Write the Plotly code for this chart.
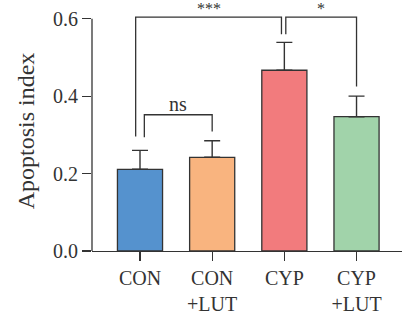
import plotly.graph_objects as go

categories = ["CON", "CON<br>+LUT", "CYP", "CYP<br>+LUT"]
means = [0.211, 0.242, 0.467, 0.347]
errors = [0.049, 0.043, 0.072, 0.053]
colors = ["#5592CE", "#F9B47F", "#F27B7D", "#A1D3AA"]
y_ticks = [0.0, 0.2, 0.4, 0.6]

# significance brackets: x_left, x_right, y_top, y_left_bottom, y_right_bottom, label
br_x_left = [-0.06, 2.02, 0.06]
br_x_right = [1.96, 3.0, 1.0]
br_top = [0.604, 0.604, 0.352]
br_left_bottom = [0.296, 0.56, 0.294]
br_right_bottom = [0.56, 0.425, 0.309]
br_labels = ["***", "*", "ns"]

ink = "#333333"
font_family = "Liberation Serif, Times New Roman, serif"
xpos = list(range(len(categories)))

fig = go.Figure()
fig.add_trace(go.Bar(
    x=xpos, y=means, width=0.625,
    marker=dict(color=colors, line=dict(color=ink, width=1.3)),
    error_y=dict(type="data", array=errors, arrayminus=[0] * len(errors),
                 symmetric=False, color=ink, thickness=1.4, width=8),
    hoverinfo="skip",
))

for xl, xr, yt, ylb, yrb, lab in zip(br_x_left, br_x_right, br_top, br_left_bottom, br_right_bottom, br_labels):
    fig.add_shape(type="path", xref="x", yref="y",
                  path=f"M {xl},{ylb} L {xl},{yt} L {xr},{yt} L {xr},{yrb}",
                  line=dict(color=ink, width=1.3))
    if lab == "ns":
        fig.add_annotation(x=(xl + xr) / 2, y=yt, text=lab, showarrow=False,
                           xref="x", yref="y", yanchor="bottom", yshift=-2,
                           font=dict(family=font_family, size=20, color=ink))
    else:
        fig.add_annotation(x=(xl + xr) / 2, y=yt, text=lab, showarrow=False,
                           xref="x", yref="y", yanchor="bottom", yshift=-2,
                           font=dict(family=font_family, size=16, color=ink))

# y axis line up to the top tick
fig.add_shape(type="line", xref="paper", yref="y", x0=0, x1=0, y0=0, y1=y_ticks[-1],
              line=dict(color=ink, width=1.3))

fig.update_layout(
    width=402, height=322,
    margin=dict(l=92, r=0, t=11, b=71),
    paper_bgcolor="white", plot_bgcolor="white",
    showlegend=False,
    font=dict(family=font_family, size=20, color=ink),
    xaxis=dict(range=[-0.665, 3.63], tickmode="array", tickvals=xpos, ticktext=categories,
               showline=True, linecolor=ink, linewidth=1.3, ticks="outside",
               ticklen=9, tickwidth=1.3, tickcolor=ink, showgrid=False, zeroline=False,
               automargin=False),
    yaxis=dict(range=[0, 0.62], tickmode="array", tickvals=y_ticks,
               ticktext=[f"{v:.1f}" for v in y_ticks], ticklabeloverflow="allow",
               showline=False, ticks="outside", ticklen=9, tickwidth=1.3, tickcolor=ink,
               showgrid=False, zeroline=False, automargin=False,
               title=dict(text="Apoptosis index", standoff=11)),
)

fig.write_html("out.html", config={"displayModeBar": False, "staticPlot": True},
               post_script="document.body.style.margin='0';")
